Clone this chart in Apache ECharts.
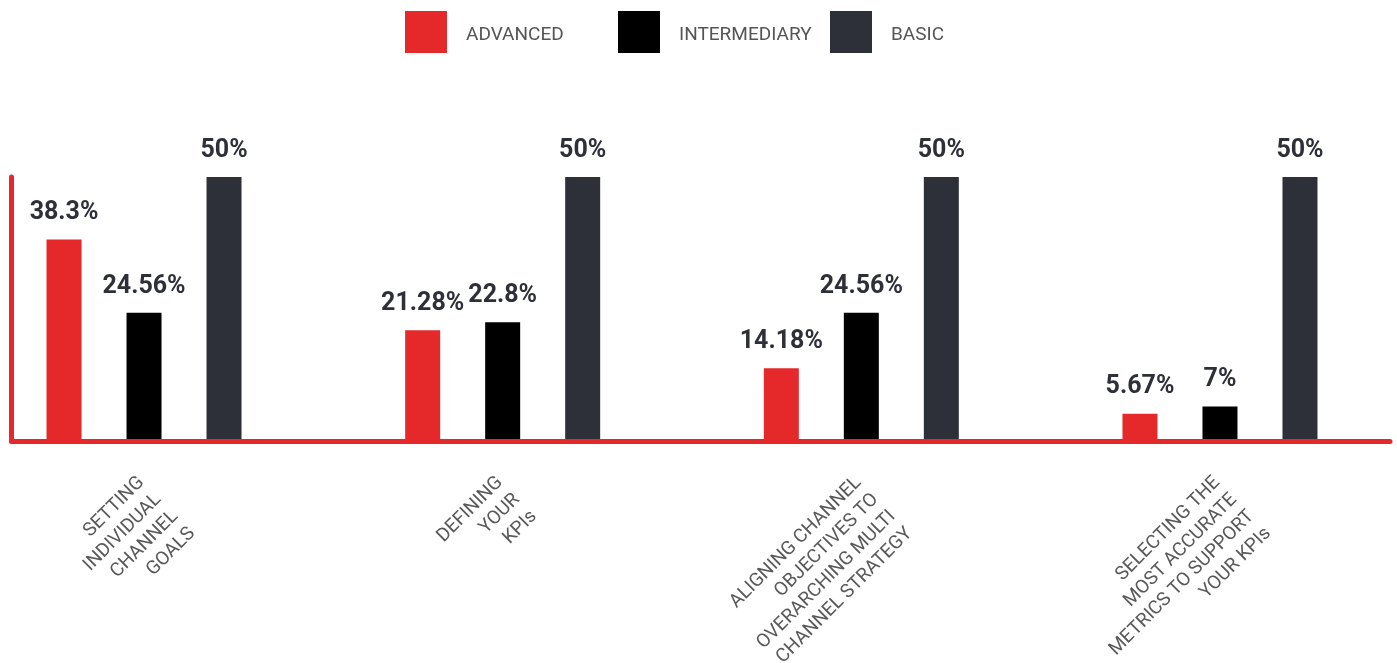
<!DOCTYPE html>
<html>
<head>
<meta charset="utf-8">
<script src="https://cdn.jsdelivr.net/npm/echarts@6/dist/echarts.min.js"></script>
<style>
  html, body { margin: 0; padding: 0; background: #ffffff; }
  #chart { width: 1397px; height: 663px; }
</style>
</head>
<body>
<div id="chart"></div>
<script>
const categories = [
  'SETTING\nINDIVIDUAL\nCHANNEL\nGOALS',
  'DEFINING\nYOUR\nKPIs',
  'ALIGNING CHANNEL\nOBJECTIVES TO\nOVERARCHING MULTI\nCHANNEL STRATEGY',
  'SELECTING THE\nMOST ACCURATE\nMETRICS TO SUPPORT\nYOUR KPIs'
];
const seriesNames = ['ADVANCED', 'INTERMEDIARY', 'BASIC'];
const advanced = [38.3, 21.28, 14.18, 5.67];
const intermediary = [24.56, 22.8, 24.56, 7];
const basic = [50, 50, 50, 50];
const valueMax = 50;

const RED = '#e5282a';
const BLACK = '#000000';
const DARK = '#2e3039';
const numFont = "Roboto, sans-serif";
const legendLefts = [405, 618, 830];

const chart = echarts.init(document.getElementById('chart'), null, { renderer: 'canvas' });

function barSeries(name, data, color) {
  return {
    name: name,
    type: 'bar',
    xAxisIndex: 0,
    yAxisIndex: 0,
    data: data,
    barWidth: 35,
    barGap: '128.57%',
    itemStyle: { color: color },
    label: {
      show: true,
      position: 'top',
      distance: 14,
      formatter: '{c}%',
      fontFamily: numFont,
      fontWeight: 'bold',
      fontSize: 25,
      color: '#2e3039'
    },
    z: 2
  };
}

const legends = seriesNames.map(function (name, i) {
  return {
    data: [name],
    left: legendLefts[i],
    top: 11,
    padding: 0,
    itemWidth: 42,
    itemHeight: 42,
    itemGap: 0,
    icon: 'rect',
    selectedMode: false,
    formatter: function (n) { return '{t|' + n + '}'; },
    textStyle: {
      rich: {
        t: {
          fontFamily: 'Roboto, sans-serif',
          fontSize: 19,
          color: '#555555',
          lineHeight: 42,
          padding: [6, 0, 0, 14]
        }
      }
    }
  };
});

chart.setOption({
  animation: false,
  backgroundColor: '#ffffff',
  legend: legends,
  grid: [
    { left: -35.3, right: -2.3, top: 177, bottom: 219, containLabel: false, outerBoundsMode: 'none' },
    { left: 11.5, right: 7, top: 177, bottom: 222, containLabel: false, outerBoundsMode: 'none' }
  ],
  xAxis: [
    {
      type: 'category',
      gridIndex: 0,
      data: categories,
      axisLine: { show: false },
      axisTick: { show: false },
      axisLabel: {
        interval: 0,
        rotate: 45,
        margin: 16,
        align: 'right',
        verticalAlign: 'top',
        padding: [0, 16, 0, 0],
        lineHeight: 24,
        fontFamily: 'Roboto, sans-serif',
        fontSize: 19,
        color: '#595959'
      }
    },
    {
      type: 'category',
      gridIndex: 1,
      data: categories,
      z: 10,
      axisLine: { show: true, lineStyle: { color: RED, width: 5 } },
      axisTick: { show: false },
      axisLabel: { show: false }
    }
  ],
  yAxis: [
    {
      type: 'value',
      gridIndex: 0,
      min: 0,
      max: valueMax,
      show: false
    },
    {
      type: 'value',
      gridIndex: 1,
      min: 0,
      max: valueMax,
      z: 10,
      axisLine: { show: true, lineStyle: { color: RED, width: 5 } },
      axisTick: { show: false },
      axisLabel: { show: false },
      splitLine: { show: false }
    }
  ],
  series: [
    barSeries(seriesNames[0], advanced, RED),
    barSeries(seriesNames[1], intermediary, BLACK),
    barSeries(seriesNames[2], basic, DARK)
  ]
});
</script>
</body>
</html>
